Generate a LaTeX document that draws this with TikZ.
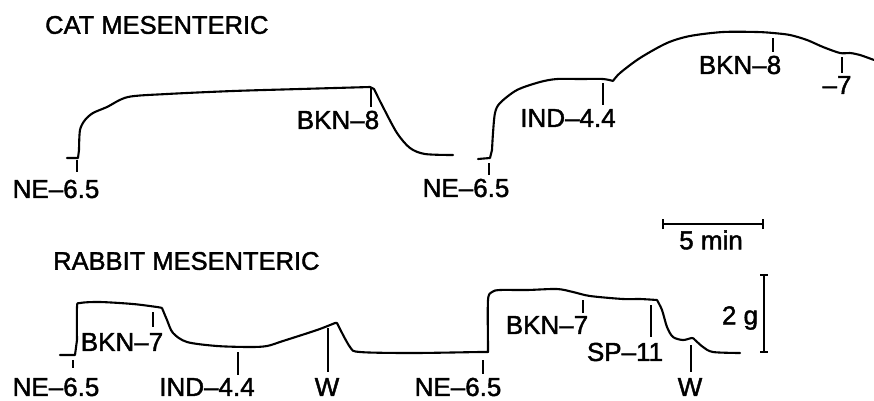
\documentclass[tikz,border=0pt]{standalone}
\usepackage{fontspec}
\setmainfont{Liberation Sans}[BoldFont={Liberation Sans},BoldFeatures={FakeBold=1.6}]
\begin{document}
\begin{tikzpicture}[x=1pt,y=-1pt,
  trace/.style={line width=2.1pt,line join=round,line cap=round},
  tick/.style={line width=1.5pt},
  lab/.style={inner sep=0pt,font=\fontsize{26}{26}\bfseries\selectfont},
  ttl/.style={inner sep=0pt,anchor=west,font=\fontsize{25.5}{26}\bfseries\selectfont},
  scalebar/.style={line width=1.8pt}]
\useasboundingbox (0,0) rectangle (874,400);

% titles
\node[ttl] (catT) at (45,25) {CAT MESENTERIC};
\node[ttl] (rabT) at (53,261) {RABBIT MESENTERIC};

% cat trace 1
\draw[trace] (67,158) -- (78,158) -- (79,150)
  plot[smooth,tension=0.5] coordinates {(79,150) (80,130) (85,120) (93,113) (107,107) (128,97) (167,94) (233,91) (300,89) (370,87)}
  -- (374,89)
  plot[smooth,tension=0.5] coordinates {(374,89) (383,107) (397,133) (410,148) (425,154) (453,155)};
% cat trace 2
\draw[trace] (478,159) -- (490,158) -- (492,150)
  plot[smooth,tension=0.5] coordinates {(492,150) (493,133) (495,113) (500,103) (517,90) (540,82) (557,79) (580,79) (603,79) (613,81)}
  plot[smooth,tension=0.5] coordinates {(613,81) (620,73) (640,58) (667,43) (690,36) (723,32) (757,32) (773,33) (790,35) (807,40) (823,47) (840,53) (850,53) (860,55) (874,60)};

% rabbit trace
\draw[trace] (60,355) -- (75,355) -- (77,340)
  plot[smooth,tension=0.5] coordinates {(77,340) (77,307) (80,303) (100,302) (133,304) (157,307) (162,308)}
  plot[smooth,tension=0.5] coordinates {(162,308) (167,320) (173,333) (187,342) (217,346) (250,347) (267,346) (283,341) (317,330) (335,323)}
  -- (337,323)
  plot[smooth,tension=0.5] coordinates {(337,323) (350,347) (360,352) (413,353) (480,352) (488,352)}
  -- (488,345)
  plot[smooth,tension=0.5] coordinates {(488,345) (488,300) (492,292) (500,290) (527,290) (557,289) (573,292) (590,296) (623,299) (640,299) (657,300)}
  plot[smooth,tension=0.5] coordinates {(657,300) (662,310) (667,327) (673,337) (683,340) (692,338) (695,340) (703,347) (713,352) (740,353)};

% --- cat labels and ticks
\coordinate (t1a) at (77,160); \coordinate (t1b) at (77,172);
\draw[tick] (t1a) -- (t1b);
\node[lab] (l1) at (56,189) {NE–6.5};
\coordinate (t2a) at (371,87); \coordinate (t2b) at (371,107);
\draw[tick] (t2a) -- (t2b);
\node[lab] (l2) at (338,120) {BKN–8};
\coordinate (t3a) at (489,163); \coordinate (t3b) at (489,175);
\draw[tick] (t3a) -- (t3b);
\node[lab] (l3) at (466,188) {NE–6.5};
\coordinate (t4a) at (603,83); \coordinate (t4b) at (603,105);
\draw[tick] (t4a) -- (t4b);
\node[lab] (l4) at (568,118) {IND–4.4};
\coordinate (t5a) at (773,38); \coordinate (t5b) at (773,52);
\draw[tick] (t5a) -- (t5b);
\node[lab] (l5) at (740,65) {BKN–8};
\coordinate (t6a) at (842,57); \coordinate (t6b) at (842,73);
\draw[tick] (t6a) -- (t6b);
\node[lab] (l6) at (837,85) {–7};

% --- rabbit labels and ticks
\coordinate (r1a) at (73,360); \coordinate (r1b) at (73,368);
\draw[tick] (r1a) -- (r1b);
\node[lab] (m1) at (56,387) {NE–6.5};
\coordinate (r2a) at (153,312); \coordinate (r2b) at (153,327);
\draw[tick] (r2a) -- (r2b);
\node[lab] (m2) at (122,342) {BKN–7};
\coordinate (r3a) at (238,352); \coordinate (r3b) at (238,375);
\draw[tick] (r3a) -- (r3b);
\node[lab] (m3) at (207,387) {IND–4.4};
\coordinate (r4a) at (328,328); \coordinate (r4b) at (328,372);
\draw[tick] (r4a) -- (r4b);
\node[lab] (m4) at (327,387) {W};
\coordinate (r5a) at (483,360); \coordinate (r5b) at (483,374);
\draw[tick] (r5a) -- (r5b);
\node[lab] (m5) at (458,387) {NE–6.5};
\coordinate (r6a) at (583,300); \coordinate (r6b) at (583,313);
\draw[tick] (r6a) -- (r6b);
\node[lab] (m6) at (547,325) {BKN–7};
\coordinate (r7a) at (651,305); \coordinate (r7b) at (651,337);
\draw[tick] (r7a) -- (r7b);
\node[lab] (m7) at (625,352) {SP–11};
\coordinate (r8a) at (691,345); \coordinate (r8b) at (691,372);
\draw[tick] (r8a) -- (r8b);
\node[lab] (m8) at (690,387) {W};

% --- scale bars
\coordinate (sbL) at (663,224); \coordinate (sbR) at (763,224);
\draw[scalebar] (sbL) -- (sbR);
\draw[scalebar] ([yshift=-5pt]sbL) -- ([yshift=5pt]sbL);
\draw[scalebar] ([yshift=-5pt]sbR) -- ([yshift=5pt]sbR);
\node[lab] (smin) at (711,240) {5 min};
\coordinate (gbT) at (764,275); \coordinate (gbB) at (764,352);
\draw[scalebar] (gbT) -- (gbB);
\draw[scalebar] ([xshift=-4pt]gbT) -- ([xshift=4pt]gbT);
\draw[scalebar] ([xshift=-4pt]gbB) -- ([xshift=4pt]gbB);
\node[lab] (gg) at (740,318) {2 g};
\end{tikzpicture}
\end{document}
